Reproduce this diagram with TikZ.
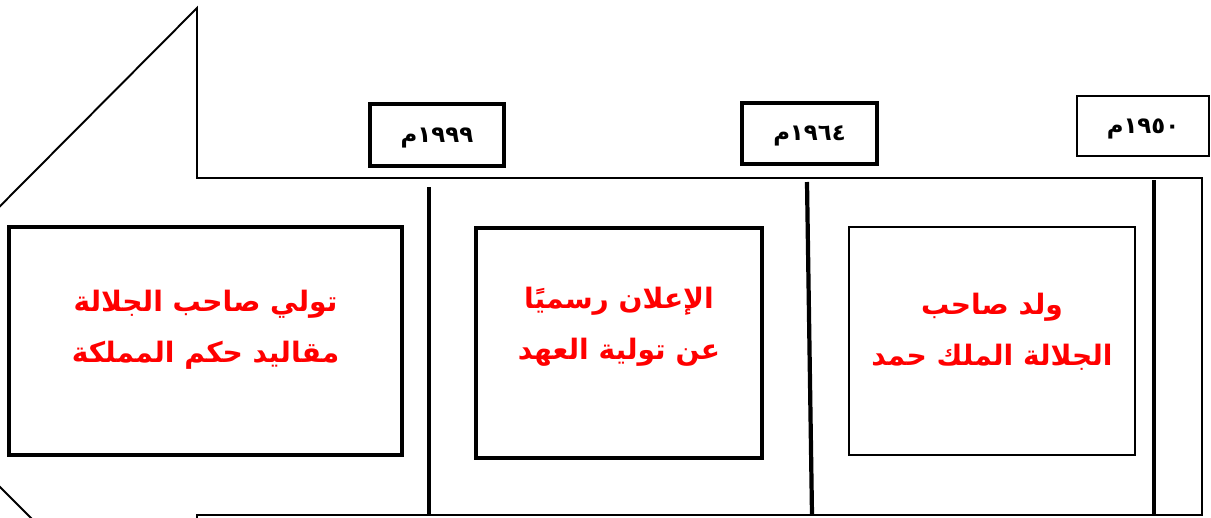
\documentclass[tikz,border=0pt]{standalone}
\usepackage{fontspec}
\newfontfamily\arabicfont[Script=Arabic]{DejaVu Sans}
\TeXXeTstate=1
\begin{document}
\begin{tikzpicture}[x=0.2mm,y=-0.2mm,
    every node/.style={inner sep=0pt,align=center},
    boxsize/.style 2 args={minimum width=#1*0.2mm,minimum height=#2*0.2mm},
    thickbox/.style={draw,line width=2.3pt},
    thinbox/.style={draw,line width=1.1pt},
    yeartext/.style={text depth=0pt,font=\arabicfont\bfseries\fontsize{13}{15}\selectfont},
    eventtext/.style={text=red,font=\arabicfont\bfseries\fontsize{16}{29}\selectfont},
    divider/.style={line width=2.4pt}]
    \useasboundingbox (0,0) rectangle (1211,517);
    \clip (0,0) rectangle (1211,517);
    % the arrow
    \draw[line width=1.1pt] (197,8) -- (197,178) -- (1202,178) -- (1202,515)
      -- (197,515) -- (197,684) -- (-140,347) -- cycle;
    \draw[divider] (429,187) -- (429,515);
    \draw[divider] (807,182) -- (812,515);
    \draw[divider] (1154,180) -- (1154,515);
    % years
    \node[thickbox,yeartext,boxsize={134}{62}] (Y99) at (437,135) {\beginR ١٩٩٩م\endR};
    \node[thickbox,yeartext,boxsize={135}{61}] (Y64) at (809.5,133.5) {\beginR ١٩٦٤م\endR};
    \node[thinbox,yeartext,boxsize={132}{60}] (Y50) at (1143,126) {\beginR ١٩٥٠م\endR};
    % events
    \node[thickbox,boxsize={393}{228}] (E99) at (205.5,341) {};
    \node[eventtext] (T99) at ([yshift=2.3mm]E99.center)
      {\beginR تولي صاحب الجلالة\endR\\\beginR مقاليد حكم المملكة\endR};
    \node[thickbox,boxsize={286}{230}] (E64) at (619,343) {};
    \node[eventtext] (T64) at ([yshift=3.3mm]E64.center)
      {\beginR الإعلان رسميًا\endR\\\beginR عن تولية العهد\endR};
    \node[thinbox,boxsize={286}{228}] (E50) at (992,341) {};
    \node[eventtext] (T50) at ([yshift=1.8mm]E50.center)
      {\beginR ولد صاحب\endR\\\beginR الجلالة الملك حمد\endR};
\end{tikzpicture}
\end{document}
